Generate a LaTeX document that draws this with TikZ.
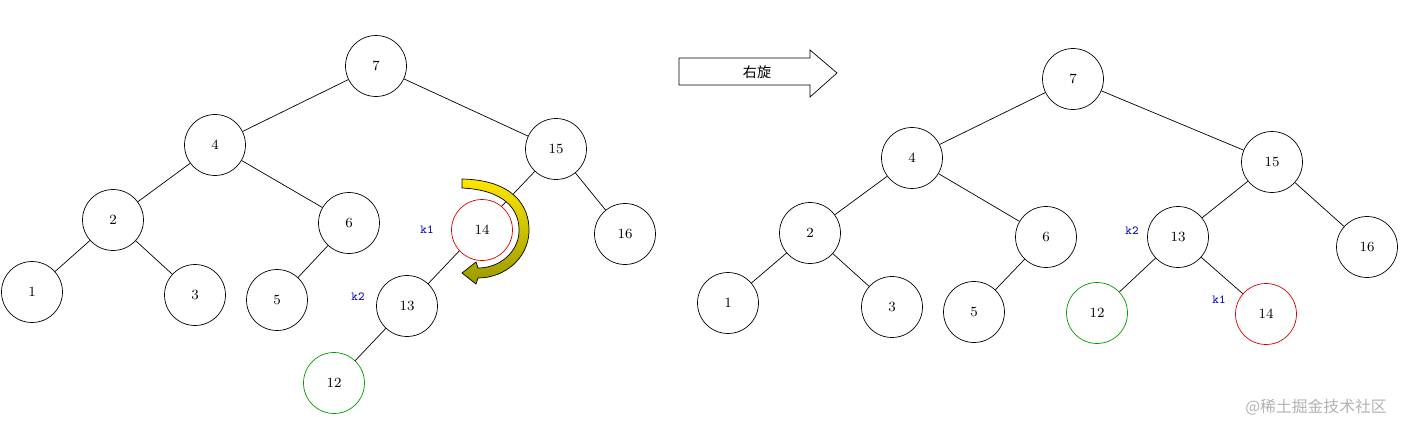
\documentclass[tikz,border=0pt]{standalone}
\usepackage{fontspec}
\newfontfamily\cjk{Noto Sans CJK SC}
\begin{document}
\begin{tikzpicture}[x=0.02cm,y=-0.02cm,
  nd/.style={circle,draw,fill=white,minimum size=1.22cm,inner sep=0pt,font=\footnotesize},
  red/.style={nd,draw=red!85!black},
  grn/.style={nd,draw=green!60!black},
  lbl/.style={font=\scriptsize\ttfamily,text=blue!70!black}]
\useasboundingbox (0,0) rectangle (1411,433);
% left tree
\node[nd] (a7) at (376,66) {7};
\node[nd] (a4) at (215,145) {4};
\node[nd] (a15) at (556,149) {15};
\node[nd] (a2) at (113,220) {2};
\node[nd] (a6) at (349,223) {6};
\node[nd] (a16) at (625,234) {16};
\node[nd] (a1) at (32,292) {1};
\node[nd] (a3) at (195,295) {3};
\node[nd] (a5) at (277,300) {5};
\node[nd] (a13) at (407,306) {13};
\node[grn] (a12) at (334,383) {12};
\draw (a7)--(a4) (a7)--(a15) (a4)--(a2) (a4)--(a6) (a2)--(a1) (a2)--(a3)
  (a6)--(a5) (a15)--(a16) (a15)--(a13) (a13)--(a12);
\node[red] (a14) at (482,230) {14};
\node[lbl] (ak1) at (427,230) {k1};
\node[lbl] (ak2) at (358,297) {k2};
\draw[shade,top color=yellow!80!orange,bottom color=yellow!60!black] (462,179) .. controls (512,180) and (530,205) .. (529,232) .. controls (528,258) and (505,278) .. (478,278) -- (476,284) -- (462,273) -- (476,262) -- (478,268) .. controls (500,268) and (518,252) .. (519,232) .. controls (520,210) and (505,190) .. (462,188) -- cycle;
% big arrow
\draw (679,58)--(810,58)--(810,50)--(837,73)--(810,97)--(810,85)--(679,85)--cycle;
\node[font=\cjk\footnotesize] (rot) at (757,72) {右旋};
% right tree
\node[nd] (b7) at (1073,79) {7};
\node[nd] (b4) at (912,158) {4};
\node[nd] (b15) at (1272,162) {15};
\node[nd] (b2) at (810,233) {2};
\node[nd] (b6) at (1046,237) {6};
\node[nd] (b13) at (1178,237) {13};
\node[nd] (b16) at (1367,247) {16};
\node[nd] (b1) at (728,303) {1};
\node[nd] (b3) at (892,307) {3};
\node[nd] (b5) at (974,312) {5};
\node[grn] (b12) at (1097,313) {12};
\node[red] (b14) at (1266,314) {14};
\draw (b7)--(b4) (b7)--(b15) (b4)--(b2) (b4)--(b6) (b2)--(b1) (b2)--(b3)
  (b6)--(b5) (b15)--(b13) (b15)--(b16) (b13)--(b12) (b13)--(b14);
\node[lbl] (bk2) at (1132,231) {k2};
\node[lbl] (bk1) at (1219,300) {k1};
\node[font=\cjk\small,text=gray!60] (wm) at (1316,407) {@稀土掘金技术社区};
\end{tikzpicture}
\end{document}
